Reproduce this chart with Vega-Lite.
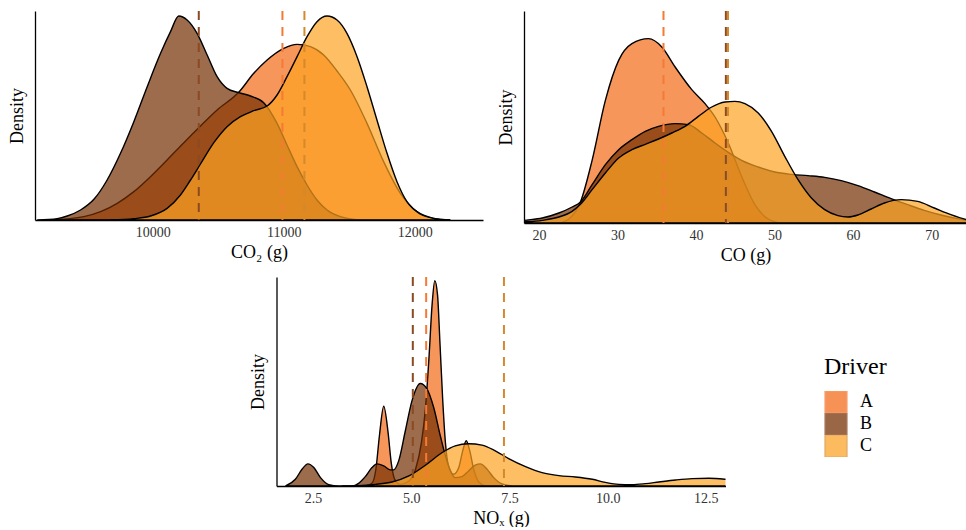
{
  "$schema": "https://vega.github.io/schema/vega-lite/v6.json",
  "padding": {"left": 8, "top": 10, "right": 0, "bottom": 0},
  "autosize": {"type": "pad"},
  "background": "white",
  "config": {
    "font": "Liberation Serif",
    "view": {"stroke": null},
    "axis": {
      "domainColor": "black",
      "domainWidth": 1.3,
      "ticks": false,
      "grid": false,
      "labelFont": "Liberation Serif",
      "labelFontSize": 14,
      "labelColor": "#333333",
      "labelPadding": 5,
      "titleFont": "Liberation Serif",
      "titleFontSize": 18,
      "titleFontWeight": "normal",
      "titleColor": "black",
      "titlePadding": 4
    },
    "axisY": {"labels": false, "titlePadding": 9},
    "legend": {
      "orient": "none",
      "legendX": 789,
      "legendY": 344,
      "titleFont": "Liberation Serif",
      "titleFontSize": 24,
      "titleFontWeight": "normal",
      "titleColor": "black",
      "titlePadding": 12,
      "labelFont": "Liberation Serif",
      "labelFontSize": 18,
      "labelColor": "black",
      "labelOffset": 12,
      "symbolType": "square",
      "symbolSize": 484,
      "symbolOpacity": 0.72,
      "symbolStrokeColor": "black",
      "symbolStrokeWidth": 1.2,
      "rowPadding": 0,
      "clipHeight": 22,
      "padding": 0
    }
  },
  "datasets": {
    "co2": [
      {"Driver": "A", "x": 9219, "density": 0},
      {"Driver": "A", "x": 9473, "density": 10},
      {"Driver": "A", "x": 9601, "density": 25},
      {"Driver": "A", "x": 9728, "density": 50},
      {"Driver": "A", "x": 9855, "density": 85},
      {"Driver": "A", "x": 9982, "density": 130},
      {"Driver": "A", "x": 10109, "density": 180},
      {"Driver": "A", "x": 10237, "density": 232},
      {"Driver": "A", "x": 10364, "density": 282},
      {"Driver": "A", "x": 10491, "density": 330},
      {"Driver": "A", "x": 10656, "density": 383},
      {"Driver": "A", "x": 10771, "density": 440},
      {"Driver": "A", "x": 10873, "density": 480},
      {"Driver": "A", "x": 11000, "density": 515},
      {"Driver": "A", "x": 11102, "density": 527},
      {"Driver": "A", "x": 11204, "density": 520},
      {"Driver": "A", "x": 11305, "density": 495},
      {"Driver": "A", "x": 11407, "density": 447},
      {"Driver": "A", "x": 11509, "density": 390},
      {"Driver": "A", "x": 11636, "density": 290},
      {"Driver": "A", "x": 11763, "density": 175},
      {"Driver": "A", "x": 11891, "density": 80},
      {"Driver": "A", "x": 12018, "density": 25},
      {"Driver": "A", "x": 12145, "density": 5},
      {"Driver": "A", "x": 12272, "density": 0},
      {"Driver": "B", "x": 9117, "density": 0},
      {"Driver": "B", "x": 9270, "density": 4},
      {"Driver": "B", "x": 9346, "density": 12},
      {"Driver": "B", "x": 9448, "density": 30},
      {"Driver": "B", "x": 9550, "density": 62},
      {"Driver": "B", "x": 9651, "density": 120},
      {"Driver": "B", "x": 9753, "density": 200},
      {"Driver": "B", "x": 9855, "density": 295},
      {"Driver": "B", "x": 9957, "density": 400},
      {"Driver": "B", "x": 10059, "density": 500},
      {"Driver": "B", "x": 10135, "density": 565},
      {"Driver": "B", "x": 10198, "density": 612},
      {"Driver": "B", "x": 10262, "density": 600},
      {"Driver": "B", "x": 10338, "density": 560},
      {"Driver": "B", "x": 10415, "density": 495},
      {"Driver": "B", "x": 10491, "density": 430},
      {"Driver": "B", "x": 10567, "density": 395},
      {"Driver": "B", "x": 10656, "density": 382},
      {"Driver": "B", "x": 10746, "density": 372},
      {"Driver": "B", "x": 10847, "density": 352},
      {"Driver": "B", "x": 10949, "density": 290},
      {"Driver": "B", "x": 11025, "density": 225},
      {"Driver": "B", "x": 11102, "density": 160},
      {"Driver": "B", "x": 11178, "density": 105},
      {"Driver": "B", "x": 11254, "density": 60},
      {"Driver": "B", "x": 11331, "density": 30},
      {"Driver": "B", "x": 11433, "density": 10},
      {"Driver": "B", "x": 11585, "density": 0},
      {"Driver": "C", "x": 9677, "density": 0},
      {"Driver": "C", "x": 9855, "density": 4},
      {"Driver": "C", "x": 9982, "density": 12},
      {"Driver": "C", "x": 10109, "density": 35},
      {"Driver": "C", "x": 10211, "density": 75},
      {"Driver": "C", "x": 10288, "density": 120},
      {"Driver": "C", "x": 10364, "density": 168},
      {"Driver": "C", "x": 10466, "density": 232},
      {"Driver": "C", "x": 10567, "density": 280},
      {"Driver": "C", "x": 10669, "density": 310},
      {"Driver": "C", "x": 10771, "density": 328},
      {"Driver": "C", "x": 10873, "density": 342},
      {"Driver": "C", "x": 10949, "density": 375},
      {"Driver": "C", "x": 11025, "density": 430},
      {"Driver": "C", "x": 11102, "density": 490},
      {"Driver": "C", "x": 11178, "density": 550},
      {"Driver": "C", "x": 11254, "density": 595},
      {"Driver": "C", "x": 11331, "density": 612},
      {"Driver": "C", "x": 11407, "density": 600},
      {"Driver": "C", "x": 11483, "density": 560},
      {"Driver": "C", "x": 11560, "density": 490},
      {"Driver": "C", "x": 11636, "density": 400},
      {"Driver": "C", "x": 11712, "density": 300},
      {"Driver": "C", "x": 11789, "density": 200},
      {"Driver": "C", "x": 11865, "density": 115},
      {"Driver": "C", "x": 11941, "density": 55},
      {"Driver": "C", "x": 12043, "density": 18},
      {"Driver": "C", "x": 12145, "density": 5},
      {"Driver": "C", "x": 12272, "density": 0}
    ],
    "co": [
      {"Driver": "A", "x": 22.54, "density": 0},
      {"Driver": "A", "x": 23.81, "density": 12},
      {"Driver": "A", "x": 25.29, "density": 63},
      {"Driver": "A", "x": 26.77, "density": 188},
      {"Driver": "A", "x": 28.46, "density": 368},
      {"Driver": "A", "x": 30.15, "density": 488},
      {"Driver": "A", "x": 31.84, "density": 538},
      {"Driver": "A", "x": 33.96, "density": 553},
      {"Driver": "A", "x": 35.65, "density": 528},
      {"Driver": "A", "x": 37.34, "density": 468},
      {"Driver": "A", "x": 39.46, "density": 400},
      {"Driver": "A", "x": 41.15, "density": 358},
      {"Driver": "A", "x": 42.42, "density": 318},
      {"Driver": "A", "x": 44.11, "density": 240},
      {"Driver": "A", "x": 45.8, "density": 140},
      {"Driver": "A", "x": 47.5, "density": 55},
      {"Driver": "A", "x": 49.19, "density": 12},
      {"Driver": "A", "x": 50.88, "density": 0},
      {"Driver": "B", "x": 16.62, "density": 3},
      {"Driver": "B", "x": 18.1, "density": 8},
      {"Driver": "B", "x": 20.42, "density": 15},
      {"Driver": "B", "x": 22.54, "density": 30},
      {"Driver": "B", "x": 24.23, "density": 48},
      {"Driver": "B", "x": 25.29, "density": 63},
      {"Driver": "B", "x": 26.77, "density": 115},
      {"Driver": "B", "x": 28.46, "density": 175},
      {"Driver": "B", "x": 30.15, "density": 220},
      {"Driver": "B", "x": 31.84, "density": 250},
      {"Driver": "B", "x": 33.54, "density": 275},
      {"Driver": "B", "x": 35.23, "density": 290},
      {"Driver": "B", "x": 37.34, "density": 298},
      {"Driver": "B", "x": 39.04, "density": 295},
      {"Driver": "B", "x": 40.73, "density": 270},
      {"Driver": "B", "x": 42.42, "density": 240},
      {"Driver": "B", "x": 44.11, "density": 212},
      {"Driver": "B", "x": 45.8, "density": 188},
      {"Driver": "B", "x": 47.92, "density": 168},
      {"Driver": "B", "x": 50.03, "density": 153},
      {"Driver": "B", "x": 52.15, "density": 146},
      {"Driver": "B", "x": 54.26, "density": 142},
      {"Driver": "B", "x": 56.38, "density": 137},
      {"Driver": "B", "x": 58.49, "density": 127},
      {"Driver": "B", "x": 60.61, "density": 112},
      {"Driver": "B", "x": 62.72, "density": 93},
      {"Driver": "B", "x": 64.84, "density": 73},
      {"Driver": "B", "x": 66.95, "density": 55},
      {"Driver": "B", "x": 69.07, "density": 38},
      {"Driver": "B", "x": 71.18, "density": 24},
      {"Driver": "B", "x": 73.3, "density": 13},
      {"Driver": "B", "x": 75.41, "density": 6},
      {"Driver": "B", "x": 77.53, "density": 2},
      {"Driver": "C", "x": 16.62, "density": 1},
      {"Driver": "C", "x": 18.1, "density": 3},
      {"Driver": "C", "x": 20.42, "density": 8},
      {"Driver": "C", "x": 22.54, "density": 18},
      {"Driver": "C", "x": 24.23, "density": 35},
      {"Driver": "C", "x": 25.29, "density": 56},
      {"Driver": "C", "x": 26.77, "density": 100},
      {"Driver": "C", "x": 28.46, "density": 150},
      {"Driver": "C", "x": 30.15, "density": 195},
      {"Driver": "C", "x": 31.84, "density": 220},
      {"Driver": "C", "x": 33.54, "density": 236},
      {"Driver": "C", "x": 35.23, "density": 252},
      {"Driver": "C", "x": 36.92, "density": 270},
      {"Driver": "C", "x": 38.61, "density": 290},
      {"Driver": "C", "x": 40.3, "density": 320},
      {"Driver": "C", "x": 42.0, "density": 348},
      {"Driver": "C", "x": 43.69, "density": 363},
      {"Driver": "C", "x": 44.96, "density": 365},
      {"Driver": "C", "x": 46.23, "density": 358},
      {"Driver": "C", "x": 47.92, "density": 330},
      {"Driver": "C", "x": 49.61, "density": 275},
      {"Driver": "C", "x": 51.3, "density": 200},
      {"Driver": "C", "x": 52.99, "density": 130},
      {"Driver": "C", "x": 54.69, "density": 75},
      {"Driver": "C", "x": 56.38, "density": 40},
      {"Driver": "C", "x": 58.07, "density": 22},
      {"Driver": "C", "x": 59.34, "density": 18},
      {"Driver": "C", "x": 60.61, "density": 24},
      {"Driver": "C", "x": 62.3, "density": 42},
      {"Driver": "C", "x": 63.99, "density": 60},
      {"Driver": "C", "x": 66.12, "density": 70},
      {"Driver": "C", "x": 68.22, "density": 65},
      {"Driver": "C", "x": 70.34, "density": 45},
      {"Driver": "C", "x": 72.45, "density": 25},
      {"Driver": "C", "x": 74.48, "density": 10},
      {"Driver": "C", "x": 76.68, "density": 3}
    ],
    "nox": [
      {"Driver": "A", "x": 3.83, "density": 0},
      {"Driver": "A", "x": 4.0, "density": 8},
      {"Driver": "A", "x": 4.1, "density": 50},
      {"Driver": "A", "x": 4.19, "density": 150},
      {"Driver": "A", "x": 4.3, "density": 238},
      {"Driver": "A", "x": 4.41, "density": 160},
      {"Driver": "A", "x": 4.49, "density": 70},
      {"Driver": "A", "x": 4.58, "density": 20},
      {"Driver": "A", "x": 4.72, "density": 5},
      {"Driver": "A", "x": 4.94, "density": 15},
      {"Driver": "A", "x": 5.11, "density": 50},
      {"Driver": "A", "x": 5.26, "density": 130},
      {"Driver": "A", "x": 5.36, "density": 230},
      {"Driver": "A", "x": 5.45, "density": 380},
      {"Driver": "A", "x": 5.53, "density": 540},
      {"Driver": "A", "x": 5.6, "density": 613},
      {"Driver": "A", "x": 5.67, "density": 570},
      {"Driver": "A", "x": 5.73, "density": 430},
      {"Driver": "A", "x": 5.8, "density": 260},
      {"Driver": "A", "x": 5.87, "density": 130},
      {"Driver": "A", "x": 5.95, "density": 60},
      {"Driver": "A", "x": 6.08, "density": 35},
      {"Driver": "A", "x": 6.21, "density": 55},
      {"Driver": "A", "x": 6.31, "density": 105},
      {"Driver": "A", "x": 6.4, "density": 135},
      {"Driver": "A", "x": 6.49, "density": 105},
      {"Driver": "A", "x": 6.59, "density": 50},
      {"Driver": "A", "x": 6.72, "density": 12},
      {"Driver": "A", "x": 6.89, "density": 0},
      {"Driver": "B", "x": 1.8, "density": 0},
      {"Driver": "B", "x": 2.05, "density": 20},
      {"Driver": "B", "x": 2.22, "density": 50},
      {"Driver": "B", "x": 2.37, "density": 66},
      {"Driver": "B", "x": 2.52, "density": 55},
      {"Driver": "B", "x": 2.69, "density": 25},
      {"Driver": "B", "x": 2.9, "density": 4},
      {"Driver": "B", "x": 3.15, "density": 0},
      {"Driver": "B", "x": 3.49, "density": 0},
      {"Driver": "B", "x": 3.66, "density": 8},
      {"Driver": "B", "x": 3.83, "density": 28},
      {"Driver": "B", "x": 4.0, "density": 55},
      {"Driver": "B", "x": 4.13, "density": 66},
      {"Driver": "B", "x": 4.3, "density": 60},
      {"Driver": "B", "x": 4.47, "density": 48},
      {"Driver": "B", "x": 4.55, "density": 48},
      {"Driver": "B", "x": 4.68, "density": 75},
      {"Driver": "B", "x": 4.85, "density": 165},
      {"Driver": "B", "x": 5.02, "density": 255},
      {"Driver": "B", "x": 5.23, "density": 306},
      {"Driver": "B", "x": 5.4, "density": 290},
      {"Driver": "B", "x": 5.57, "density": 235},
      {"Driver": "B", "x": 5.74, "density": 150},
      {"Driver": "B", "x": 5.87, "density": 90},
      {"Driver": "B", "x": 6.0, "density": 45},
      {"Driver": "B", "x": 6.12, "density": 25},
      {"Driver": "B", "x": 6.29, "density": 28},
      {"Driver": "B", "x": 6.46, "density": 45},
      {"Driver": "B", "x": 6.63, "density": 62},
      {"Driver": "B", "x": 6.76, "density": 66},
      {"Driver": "B", "x": 6.93, "density": 50},
      {"Driver": "B", "x": 7.1, "density": 25},
      {"Driver": "B", "x": 7.31, "density": 6},
      {"Driver": "B", "x": 7.57, "density": 0},
      {"Driver": "C", "x": 3.24, "density": 0},
      {"Driver": "C", "x": 3.66, "density": 1},
      {"Driver": "C", "x": 4.09, "density": 5},
      {"Driver": "C", "x": 4.51, "density": 12},
      {"Driver": "C", "x": 4.94, "density": 30},
      {"Driver": "C", "x": 5.36, "density": 62},
      {"Driver": "C", "x": 5.79, "density": 100},
      {"Driver": "C", "x": 6.12, "density": 120},
      {"Driver": "C", "x": 6.46, "density": 126},
      {"Driver": "C", "x": 6.8, "density": 122},
      {"Driver": "C", "x": 7.14, "density": 105},
      {"Driver": "C", "x": 7.48, "density": 82},
      {"Driver": "C", "x": 7.91, "density": 58},
      {"Driver": "C", "x": 8.33, "density": 40},
      {"Driver": "C", "x": 8.76, "density": 31},
      {"Driver": "C", "x": 9.18, "density": 27},
      {"Driver": "C", "x": 9.61, "density": 20},
      {"Driver": "C", "x": 9.94, "density": 11},
      {"Driver": "C", "x": 10.28, "density": 5},
      {"Driver": "C", "x": 10.62, "density": 4},
      {"Driver": "C", "x": 10.96, "density": 7},
      {"Driver": "C", "x": 11.3, "density": 12},
      {"Driver": "C", "x": 11.73, "density": 18},
      {"Driver": "C", "x": 12.15, "density": 22},
      {"Driver": "C", "x": 12.58, "density": 23},
      {"Driver": "C", "x": 13.0, "density": 20},
      {"Driver": "C", "x": 13.43, "density": 14},
      {"Driver": "C", "x": 13.85, "density": 8}
    ],
    "means": [
      {"panel": "CO2", "Driver": "A", "mean": 10990},
      {"panel": "CO2", "Driver": "B", "mean": 10351},
      {"panel": "CO2", "Driver": "C", "mean": 11158},
      {"panel": "CO", "Driver": "A", "mean": 35.86},
      {"panel": "CO", "Driver": "B", "mean": 43.8},
      {"panel": "CO", "Driver": "C", "mean": 44.07},
      {"panel": "NOx", "Driver": "A", "mean": 5.38},
      {"panel": "NOx", "Driver": "B", "mean": 5.04},
      {"panel": "NOx", "Driver": "C", "mean": 7.36}
    ]
  },
  "resolve": {"scale": {"x": "independent", "y": "independent"}},
  "center": true,
  "spacing": 12,
  "vconcat": [
    {
      "resolve": {"scale": {"x": "independent", "y": "independent"}},
      "spacing": 14,
      "hconcat": [
        {
          "width": 448,
          "height": 209,
          "layer": [
            {
              "data": {"name": "co2"},
              "mark": {"type": "area", "interpolate": "monotone", "strokeWidth": 1.4, "fillOpacity": 0.7, "clip": true},
              "encoding": {
                "x": {"field": "x", "type": "quantitative", "scale": {"domain": [9100, 12522], "nice": false, "zero": false}, "axis": {"title": "CO₂ (g)", "values": [10000, 11000, 12000], "format": "d"}},
                "y": {"field": "density", "type": "quantitative", "stack": null, "scale": {"domain": [0, 627], "nice": false}, "axis": {"title": "Density"}},
                "stroke": {"value": "black"},
                "fill": {"field": "Driver", "type": "nominal", "scale": {"domain": ["A", "B", "C"], "range": ["#F46916", "#722D00", "#FCA222"]}, "legend": {"title": "Driver", "rowPadding": 0, "clipHeight": 22, "symbolStrokeColor": "black", "symbolStrokeWidth": 1.2}}
              }
            },
            {
              "data": {"name": "means"},
              "transform": [{"filter": {"field": "panel", "equal": "CO2"}}],
              "mark": {"type": "rule", "strokeDash": [9, 7], "strokeWidth": 2},
              "encoding": {
                "x": {"field": "mean", "type": "quantitative"},
                "stroke": {"field": "Driver", "type": "nominal", "scale": {"domain": ["A", "B", "C"], "range": ["#F47A35", "#8B4A22", "#D4892C"]}, "legend": null}
              }
            }
          ]
        },
        {
          "width": 443,
          "height": 212,
          "layer": [
            {
              "data": {"name": "co"},
              "mark": {"type": "area", "interpolate": "monotone", "strokeWidth": 1.4, "fillOpacity": 0.7, "clip": true},
              "encoding": {
                "x": {"field": "x", "type": "quantitative", "scale": {"domain": [18.1, 74.5], "nice": false, "zero": false}, "axis": {"title": "CO (g)", "values": [20, 30, 40, 50, 60, 70]}},
                "y": {"field": "density", "type": "quantitative", "stack": null, "scale": {"domain": [0, 636], "nice": false}, "axis": {"title": "Density"}},
                "stroke": {"value": "black"},
                "fill": {"field": "Driver", "type": "nominal"}
              }
            },
            {
              "data": {"name": "means"},
              "transform": [{"filter": {"field": "panel", "equal": "CO"}}],
              "mark": {"type": "rule", "strokeDash": [9, 7], "strokeWidth": 2},
              "encoding": {
                "x": {"field": "mean", "type": "quantitative"},
                "stroke": {"field": "Driver", "type": "nominal", "legend": null}
              }
            }
          ]
        }
      ]
    },
    {
      "width": 449,
      "height": 209,
      "layer": [
        {
          "data": {"name": "nox"},
          "mark": {"type": "area", "interpolate": "monotone", "strokeWidth": 1.4, "fillOpacity": 0.7, "clip": true},
          "encoding": {
            "x": {"field": "x", "type": "quantitative", "scale": {"domain": [1.57, 13.0], "nice": false, "zero": false}, "axis": {"title": "NOₓ (g)", "values": [2.5, 5, 7.5, 10, 12.5], "format": ".1f"}},
            "y": {"field": "density", "type": "quantitative", "stack": null, "scale": {"domain": [0, 624], "nice": false}, "axis": {"title": "Density"}},
            "stroke": {"value": "black"},
            "fill": {"field": "Driver", "type": "nominal"}
          }
        },
        {
          "data": {"name": "means"},
          "transform": [{"filter": {"field": "panel", "equal": "NOx"}}],
          "mark": {"type": "rule", "strokeDash": [9, 7], "strokeWidth": 2},
          "encoding": {
            "x": {"field": "mean", "type": "quantitative"},
            "stroke": {"field": "Driver", "type": "nominal", "legend": null}
          }
        }
      ]
    }
  ]
}
